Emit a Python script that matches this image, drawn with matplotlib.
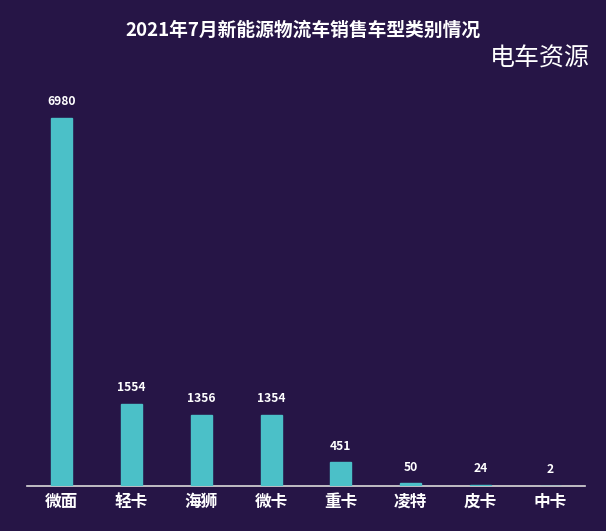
import matplotlib
matplotlib.use("Agg")
import matplotlib.pyplot as plt

plt.rcParams['font.family'] = ['Noto Sans CJK SC', 'DejaVu Sans']

categories = ['微面', '轻卡', '海狮', '微卡', '重卡', '凌特', '皮卡', '中卡']
values = [6980, 1554, 1356, 1354, 451, 50, 24, 2]

bg = '#261546'
bar_color = '#4BC0C8'

fig = plt.figure(figsize=(6.06, 5.31), dpi=100, facecolor=bg)
ax = fig.add_axes([27/606, 1 - 486/531, (585-27)/606, (486-100)/531])
ax.set_facecolor(bg)

x = list(range(len(categories)))
ax.bar(x, values, width=0.30, color=bar_color, edgecolor=bar_color, linewidth=1.0, zorder=3)
ax.set_xlim(-0.5, len(categories) - 0.5)
ax.set_ylim(0, 6980 * (486 - 100) / 368)

for xi, v in zip(x, values):
    ax.annotate(str(v), (xi, v), xytext=(0, 7), textcoords='offset points',
                ha='center', va='bottom', color='white', fontsize=8.7, fontweight='bold')

ax.set_xticks(x)
ax.set_xticklabels(categories, color='white', fontsize=12, fontweight='bold')
ax.tick_params(axis='x', length=0, pad=5)
ax.set_yticks([])
for s in ['top', 'right', 'left']:
    ax.spines[s].set_visible(False)
ax.spines['bottom'].set_color('#d9d9d9')
ax.spines['bottom'].set_linewidth(1.2)
ax.spines['bottom'].set_zorder(2)

fig.text(0.5, 1 - 30/531, '2021年7月新能源物流车销售车型类别情况', ha='center', va='center',
         color='white', fontsize=13.5, fontweight='bold')
fig.text(540/606, 1 - 59/531, '电车资源', ha='center', va='center',
         color='white', fontsize=18)

fig.savefig('out.png', dpi=100, facecolor=bg)
